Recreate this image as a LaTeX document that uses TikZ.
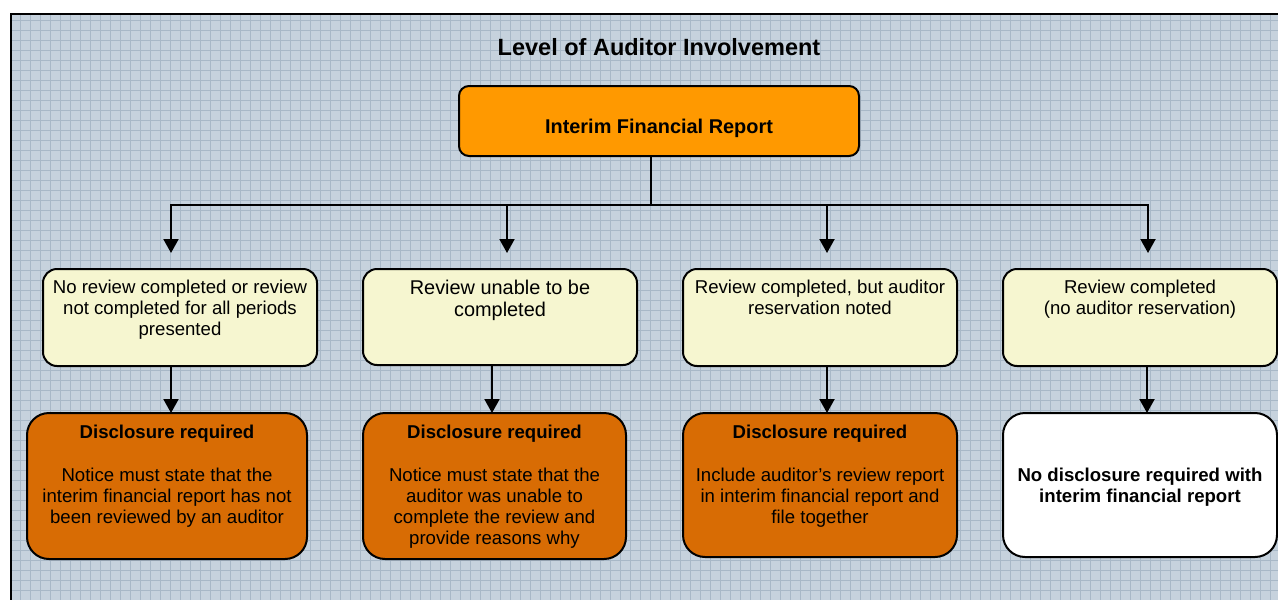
\documentclass[tikz,border=0pt]{standalone}
\usepackage{fontspec}
\setmainfont{Liberation Sans}
\usetikzlibrary{arrows.meta}
\definecolor{bgc}{RGB}{198,210,221}
\definecolor{gridc}{RGB}{168,184,199}
\definecolor{topc}{RGB}{255,153,0}
\definecolor{midc}{RGB}{246,246,208}
\definecolor{lowc}{RGB}{216,108,4}
\newcommand\bodyf{\fontsize{18.6pt}{21pt}\selectfont}
\newcommand\boxtxt[5]{\parbox[c][#2][t]{#1}{#4\centering\vspace*{#3}\strut#5}}
\begin{document}
\begin{tikzpicture}[x=1pt,y=-1pt,
  box/.style={draw=black, line width=2pt, inner sep=0pt, outer sep=0pt, anchor=north west},
  topbox/.style={box, fill=topc, rounded corners=10pt},
  midbox/.style={box, fill=midc, rounded corners=14pt},
  lowbox/.style={box, fill=lowc, rounded corners=22pt},
  nobox/.style={box, fill=white, rounded corners=22pt},
  conn/.style={line width=2pt, draw=black},
  arr/.style={conn, -{Triangle[width=15pt,length=14pt]}},
]
\useasboundingbox (0,0) rectangle (1278,600);
% background frame with grid
\fill[bgc] (11,14) rectangle (1290,610);
\begin{scope}
  \clip (11,14) rectangle (1290,610);
  \draw[gridc, line width=0.8pt, step=10pt] (0,0) grid (1290,610);
\end{scope}
\draw[line width=2pt] (1290,14) -- (11,14) -- (11,610);

% title
\node[anchor=base] (title) at (659,55) {\fontsize{23.5pt}{28pt}\selectfont\bfseries Level of Auditor Involvement};

% top box
\node[topbox] (top) at (459,86)
  {\boxtxt{400pt}{70pt}{31pt}{\fontsize{19.9pt}{23pt}\selectfont\bfseries}{Interim Financial Report}};

% middle boxes
\node[midbox] (m1) at (43,269)
  {\boxtxt{274pt}{97pt}{10pt}{\bodyf}{No review completed or review\\not completed for all periods\\presented}};
\node[midbox] (m2) at (363,269)
  {\boxtxt{274pt}{96pt}{9.3pt}{\fontsize{19.9pt}{22.5pt}\selectfont}{Review unable to be\\completed}};
\node[midbox] (m3) at (683,269)
  {\boxtxt{274pt}{97pt}{10pt}{\bodyf}{Review completed, but auditor\\reservation noted}};
\node[midbox] (m4) at (1003,269)
  {\boxtxt{274pt}{97pt}{10pt}{\bodyf}{Review completed\\(no auditor reservation)}};

% bottom boxes
\node[lowbox] (b1) at (27,413)
  {\boxtxt{280pt}{146pt}{10.3pt}{\bodyf}{\textbf{Disclosure required}\\[22.5pt]Notice must state that the\\interim financial report has not\\been reviewed by an auditor}};
\node[lowbox] (b2) at (363,413)
  {\boxtxt{263pt}{146pt}{10.3pt}{\bodyf}{\textbf{Disclosure required}\\[22.5pt]Notice must state that the\\auditor was unable to\\complete the review and\\provide reasons why}};
\node[lowbox] (b3) at (683,413)
  {\boxtxt{274pt}{144pt}{10.3pt}{\bodyf}{\textbf{Disclosure required}\\[22.5pt]Include auditor’s review report\\in interim financial report and\\file together}};
\node[nobox] (b4) at (1003,413)
  {\boxtxt{274pt}{144pt}{54pt}{\bodyf\bfseries}{No disclosure required with\\interim financial report}};

% connectors top -> middle
\coordinate (bus) at (651,205);
\coordinate (a1) at (171,253);
\coordinate (a2) at (507,253);
\coordinate (a3) at (827,253);
\coordinate (a4) at (1148,253);
\draw[conn] (top.south -| bus) -- (bus);
\draw[arr] (bus) -| (a1);
\draw[arr] (bus) -| (a2);
\draw[arr] (bus) -| (a3);
\draw[arr] (bus) -| (a4);

% connectors middle -> bottom
\coordinate (c1) at (171,413);
\coordinate (c2) at (492,413);
\coordinate (c3) at (827,413);
\coordinate (c4) at (1147,413);
\draw[arr] (m1.south -| c1) -- (c1);
\draw[arr] (m2.south -| c2) -- (c2);
\draw[arr] (m3.south -| c3) -- (c3);
\draw[arr] (m4.south -| c4) -- (c4);
\end{tikzpicture}
\end{document}
